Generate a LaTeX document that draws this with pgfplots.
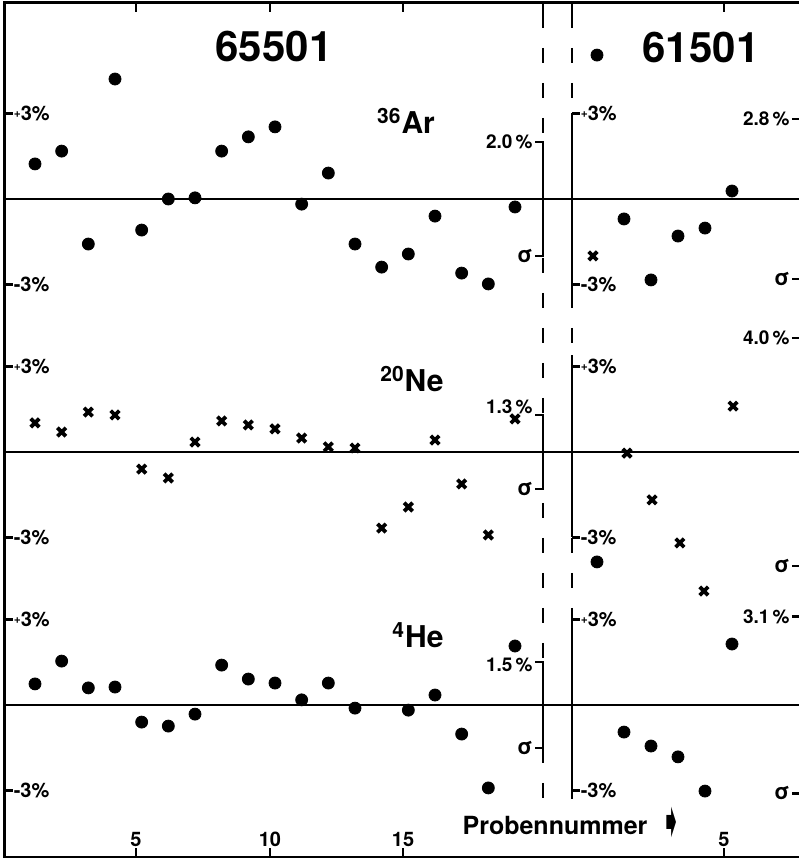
\documentclass[border=0pt]{standalone}
\usepackage{pgfplots}
\usepackage{pgfplotstable}
\pgfplotsset{compat=1.18}
\usepackage{fontspec}
\setmainfont{TeX Gyre Heros}
\newfontfamily\djv{DejaVu Sans}
\newcommand{\fs}[1]{\fontsize{#1}{#1}\selectfont\bfseries}

\pgfplotstableread{
n v
1 1.23
2 1.68
3 -1.58
4 4.21
5 -1.09
6 0.00
7 0.04
8 1.68
9 2.18
10 2.53
11 -0.18
12 0.91
13 -1.58
14 -2.39
15 -1.93
16 -0.60
17 -2.60
18 -2.98
19 -0.28
}\ArL
\pgfplotstableread{
n v
0 5.05
1 -0.70
2 -2.84
3 -1.30
4 -1.02
5 0.28
}\ArR
\pgfplotstableread{
n v
1 1.02
2 0.70
3 1.40
4 1.30
5 -0.60
6 -0.91
7 0.35
8 1.09
9 0.95
10 0.81
11 0.49
12 0.18
13 0.14
14 -2.67
15 -1.93
16 0.42
17 -1.12
18 -2.91
19 1.16
}\NeL
\pgfplotstableread{
n v
-0.15 6.88
1.11 -0.04
2.04 -1.68
3.07 -3.19
3.96 -4.88
5.04 1.61
}\NeR
\pgfplotstableread{
n v
1 0.74
2 1.54
3 0.60
4 0.63
5 -0.60
6 -0.74
7 -0.32
8 1.40
9 0.91
10 0.77
11 0.18
12 0.77
13 -0.11
15 -0.18
16 0.35
17 -1.02
18 -2.91
19 2.07
}\HeL
\pgfplotstableread{
n v
0 5.02
1 -0.95
2 -1.44
3 -1.82
4 -3.02
5 2.14
}\HeR

\tikzset{sbar/.style={line width=1.2pt}}
\pgfplotsset{
  panel/.style={scale only axis, height=228pt, ymin=-8, ymax=8, clip=false,
    axis x line=none, axis y line*=left, y axis line style={draw=none},
    xtick=\empty, ytick={-3,3}, tick align=inside, major tick length=4pt,
    every tick/.style={black, line width=1.2pt},
    yticklabels={-3\%,{\raisebox{0.3ex}{\fs{6}+}3\%}},
    yticklabel style={anchor=west, inner sep=0pt, xshift=4.2pt, font=\fs{10}}},
  leftpanel/.style={panel, width=270pt, xmin=-0.125, xmax=20.125, at={(2.5pt,#1)}, anchor=west},
  rightpanel/.style={panel, width=121.5pt, xmin=-0.926, xmax=8.074, at={(286pt,#1)}, anchor=west},
  dot/.style={only marks, mark=*, mark size=3pt, black},
  cross/.style={only marks, mark=x, mark size=3pt, black, mark options={line width=1.9pt}},
}

\begin{document}
\begin{tikzpicture}
\useasboundingbox (0,0) rectangle (399.5pt,429pt);
\clip (0,0) rectangle (399.5pt,429pt);
% outer frame
\begin{axis}[scale only axis, width=405pt, height=427pt, at={(2.5pt,0.5pt)}, anchor=south west,
  xmin=5, xmax=815, ymin=1, ymax=855,
  axis line style={line width=1.5pt},
  tick align=inside, major tick length=4.5pt,
  every tick/.style={black, line width=1.2pt},
  xtick={136,270,403,724}, xticklabels={5,10,15,5},
  xticklabel style={anchor=south, inner sep=0pt, yshift=5pt, font=\fs{10}},
  ytick=\empty]
\end{axis}
% dashed separators
\foreach \xx in {271.5pt,286pt}{
  \draw[line width=1.2pt, dash pattern=on 7.5pt off 10pt, dash phase=12.5pt] (\xx,427.5pt) -- (\xx,29pt);
  \draw[line width=1.2pt] (\xx,427.5pt) -- (\xx,417.5pt);
}
% zero lines
\foreach \yy in {329.5pt,203pt,76.5pt}{\draw[line width=1.4pt] (2.5pt,\yy) -- (400pt,\yy);}

% ---- 36Ar ----
\begin{axis}[leftpanel=329.5pt]
\addplot[dot] table[x=n,y=v] {\ArL};
\draw[sbar] (axis cs:19.75,2) -- (axis cs:20.05,2) -- (axis cs:20.05,-2) -- (axis cs:19.75,-2);
\node[anchor=east, font=\fs{9.5}, inner sep=1pt] at (axis cs:19.75,2) {2.0\,\%};
\node[anchor=east, font=\fs{11}, inner sep=1pt] at (axis cs:19.75,-2) {σ};
\end{axis}
\begin{axis}[rightpanel=329.5pt]
\addplot[dot] table[x=n,y=v] {\ArR};
\draw[sbar] (axis cs:-0.926,3) -- (axis cs:-0.926,-3.3);
\draw[sbar] (axis cs:7.222,2.8) -- (axis cs:7.555,2.8) -- (axis cs:7.555,-2.8) -- (axis cs:7.222,-2.8);
\node[anchor=east, font=\fs{9.5}, inner sep=1pt] at (axis cs:7.222,2.8) {2.8\,\%};
\node[anchor=east, font=\fs{11}, inner sep=1pt] at (axis cs:7.222,-2.8) {σ};
\end{axis}

% ---- 20Ne ----
\begin{axis}[leftpanel=203pt]
\addplot[cross] table[x=n,y=v] {\NeL};
\draw[sbar] (axis cs:19.75,1.3) -- (axis cs:20.05,1.3) -- (axis cs:20.05,-1.3) -- (axis cs:19.75,-1.3);
\node[anchor=east, font=\fs{9.5}, inner sep=1pt] at (axis cs:19.75,1.6) {1.3\,\%};
\node[anchor=east, font=\fs{11}, inner sep=1pt] at (axis cs:19.75,-1.3) {σ};
\end{axis}
\begin{axis}[rightpanel=203pt]
\addplot[cross] table[x=n,y=v] {\NeR};
\draw[sbar] (axis cs:-0.926,3.4) -- (axis cs:-0.926,-3);
\draw[sbar] (axis cs:7.222,4.0) -- (axis cs:7.555,4.0) -- (axis cs:7.555,-4.0) -- (axis cs:7.222,-4.0);
\node[anchor=east, font=\fs{9.5}, inner sep=1pt] at (axis cs:7.222,4.0) {4.0\,\%};
\node[anchor=east, font=\fs{11}, inner sep=1pt] at (axis cs:7.222,-4.0) {σ};
\end{axis}

% ---- 4He ----
\begin{axis}[leftpanel=76.5pt]
\addplot[dot] table[x=n,y=v] {\HeL};
\draw[sbar] (axis cs:19.75,1.5) -- (axis cs:20.05,1.5) -- (axis cs:20.05,-1.5) -- (axis cs:19.75,-1.5);
\node[anchor=east, font=\fs{9.5}, inner sep=1pt] at (axis cs:19.75,1.4) {1.5\,\%};
\node[anchor=east, font=\fs{11}, inner sep=1pt] at (axis cs:19.75,-1.5) {σ};
\end{axis}
\begin{axis}[rightpanel=76.5pt]
\addplot[dot] table[x=n,y=v] {\HeR};
\draw[sbar] (axis cs:-0.926,3) -- (axis cs:-0.926,-3.3);
\draw[sbar] (axis cs:7.222,3.1) -- (axis cs:7.555,3.1) -- (axis cs:7.555,-3.1) -- (axis cs:7.222,-3.1);
\node[anchor=east, font=\fs{9.5}, inner sep=1pt] at (axis cs:7.222,3.1) {3.1\,\%};
\node[anchor=east, font=\fs{11}, inner sep=1pt] at (axis cs:7.222,-3.1) {σ};
\end{axis}

% ---- texts ----
\node[anchor=base, font=\fs{21}, inner sep=0pt] at (137pt,398pt) {65501};
\node[anchor=base, font=\fs{21}, inner sep=0pt] at (350.5pt,397.5pt) {61501};
\node[anchor=base, font=\fs{15}, inner sep=0pt] at (203pt,362pt) {\textsuperscript{36}Ar};
\node[anchor=base, font=\fs{15}, inner sep=0pt] at (206pt,233pt) {\textsuperscript{20}Ne};
\node[anchor=base, font=\fs{15}, inner sep=0pt] at (209pt,105pt) {\textsuperscript{4}He};
\node[anchor=base, font=\fs{12.5}, inner sep=0pt] at (277.5pt,12pt) {Probennummer};
\node[anchor=base, inner sep=0pt] at (336pt,10pt) {\scalebox{1.1}[2.0]{\djv\fontsize{12}{12}\selectfont ➧}};
\end{tikzpicture}
\end{document}
